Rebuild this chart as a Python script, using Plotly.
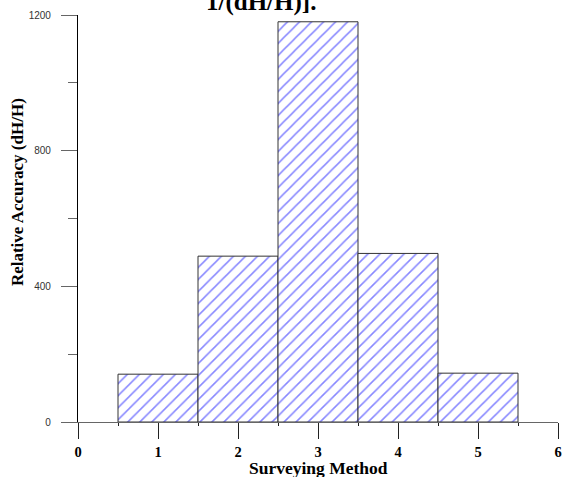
import plotly.graph_objects as go

methods = [1, 2, 3, 4, 5]
accuracy = [141, 489, 1180, 497, 144]
y_ticks = [0, 400, 800, 1200]
x_ticks = [0, 1, 2, 3, 4, 5, 6]

fig = go.Figure()
fig.add_trace(go.Bar(
    x=methods, y=accuracy, width=1,
    marker=dict(
        color="white",
        line=dict(color="#333333", width=1),
        pattern=dict(shape="/", size=8.5, solidity=0.18, fgcolor="#1010ff", bgcolor="white"),
    ),
    showlegend=False,
))

serif = "Liberation Serif, Times New Roman, serif"
fig.update_layout(
    width=564, height=477,
    margin=dict(l=78, r=6, t=15, b=55, autoexpand=False),
    paper_bgcolor="white", plot_bgcolor="white",
    xaxis=dict(
        range=[0, 6], tickvals=x_ticks, ticks="outside", ticklen=16, tickcolor="#222",
        showline=True, linecolor="#666", linewidth=1.2, showgrid=False, zeroline=False,
        automargin=False,
        tickfont=dict(family=serif, size=14.5, color="black", weight="bold"),
        minor=dict(dtick=0.5, tick0=0.5, ticks="outside", ticklen=3, tickcolor="#222"),
    ),
    yaxis=dict(
        range=[0, 1200], tickvals=y_ticks, ticks="outside", ticklen=16, tickcolor="#666",
        showline=True, linecolor="black", linewidth=1.2, showgrid=False, zeroline=False,
        automargin=False,
        tickfont=dict(family="Liberation Sans, Arial, sans-serif", size=10, color="#333"),
        ticklabelstandoff=8,
        minor=dict(tickvals=[200, 600, 1000], ticks="outside", ticklen=9, tickcolor="#666"),
    ),
    annotations=[
        dict(text="Surveying Method", xref="paper", yref="paper", x=0.5, y=-0.112,
             xanchor="center", yanchor="middle", showarrow=False,
             font=dict(family=serif, size=17.5, color="black", weight="bold")),
        dict(text="Relative Accuracy (dH/H)", xref="paper", yref="paper", x=-0.127, y=0.565,
             xanchor="center", yanchor="middle", showarrow=False, textangle=-90,
             font=dict(family=serif, size=17, color="black", weight="bold")),
        dict(text="1/(dH/H)].", xref="paper", yref="paper", x=0.381, y=1.032,
             xanchor="center", yanchor="middle", showarrow=False,
             font=dict(family=serif, size=25, color="black", weight="bold")),
    ],
)
fig.write_html("out.html", config={"displayModeBar": False},
               post_script="document.body.style.margin='0px';document.body.style.overflow='hidden';")
